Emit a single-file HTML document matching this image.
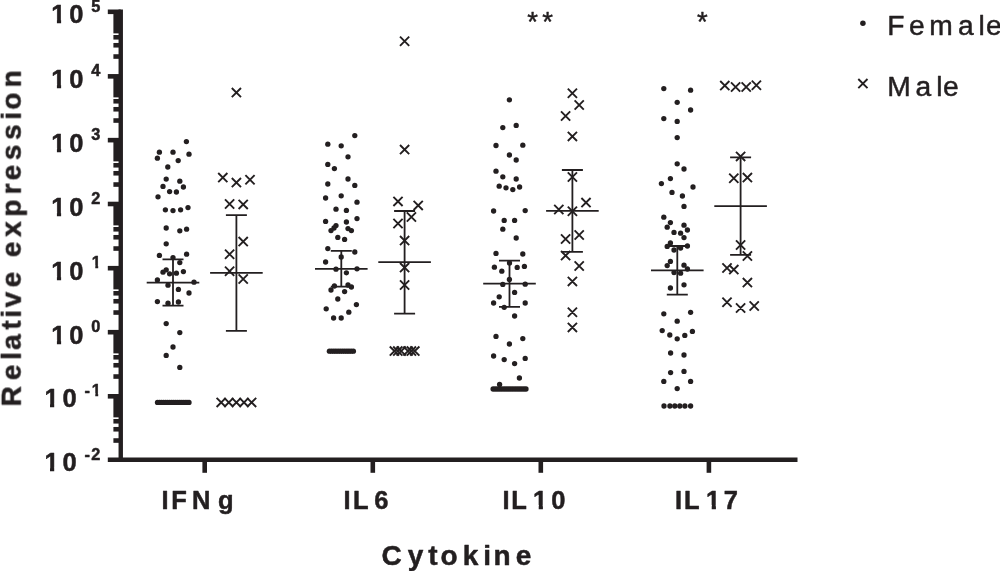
<!DOCTYPE html>
<html lang="en">
<head>
<meta charset="utf-8">
<title>Relative cytokine expression by sex</title>
<style>
html,body{margin:0;padding:0;background:#fff;}
body{width:1000px;height:571px;overflow:hidden;}
svg{display:block;}
</style>
</head>
<body>
<svg width="1000" height="571" viewBox="0 0 1000 571">

<rect width="1000" height="571" fill="#ffffff"/>
<g stroke="#231f20" stroke-width="4.4" fill="none" stroke-linecap="butt">
<line x1="120.75" y1="9.60" x2="120.75" y2="462.00"/>
<line x1="107.8" y1="459.80" x2="797.5" y2="459.80"/>
<line x1="107.8" y1="396.30" x2="120.75" y2="396.30" stroke-width="4.6"/>
<line x1="107.8" y1="332.20" x2="120.75" y2="332.20" stroke-width="4.6"/>
<line x1="107.8" y1="268.20" x2="120.75" y2="268.20" stroke-width="4.6"/>
<line x1="107.8" y1="204.00" x2="120.75" y2="204.00" stroke-width="4.6"/>
<line x1="107.8" y1="140.15" x2="120.75" y2="140.15" stroke-width="4.6"/>
<line x1="107.8" y1="76.35" x2="120.75" y2="76.35" stroke-width="4.6"/>
<line x1="107.8" y1="11.80" x2="120.75" y2="11.80" stroke-width="4.6"/>
</g>
<g stroke="#231f20" stroke-width="4.6" fill="none">
<line x1="113.4" y1="440.53" x2="120.75" y2="440.53"/>
<line x1="113.4" y1="429.26" x2="120.75" y2="429.26"/>
<line x1="113.4" y1="421.27" x2="120.75" y2="421.27"/>
<line x1="113.4" y1="376.53" x2="120.75" y2="376.53"/>
<line x1="113.4" y1="365.26" x2="120.75" y2="365.26"/>
<line x1="113.4" y1="357.27" x2="120.75" y2="357.27"/>
<line x1="113.4" y1="312.53" x2="120.75" y2="312.53"/>
<line x1="113.4" y1="301.26" x2="120.75" y2="301.26"/>
<line x1="113.4" y1="293.27" x2="120.75" y2="293.27"/>
<line x1="113.4" y1="248.53" x2="120.75" y2="248.53"/>
<line x1="113.4" y1="237.26" x2="120.75" y2="237.26"/>
<line x1="113.4" y1="229.27" x2="120.75" y2="229.27"/>
<line x1="113.4" y1="184.53" x2="120.75" y2="184.53"/>
<line x1="113.4" y1="173.26" x2="120.75" y2="173.26"/>
<line x1="113.4" y1="165.27" x2="120.75" y2="165.27"/>
<line x1="113.4" y1="120.53" x2="120.75" y2="120.53"/>
<line x1="113.4" y1="109.26" x2="120.75" y2="109.26"/>
<line x1="113.4" y1="101.27" x2="120.75" y2="101.27"/>
<line x1="113.4" y1="56.53" x2="120.75" y2="56.53"/>
<line x1="113.4" y1="45.26" x2="120.75" y2="45.26"/>
<line x1="113.4" y1="37.27" x2="120.75" y2="37.27"/>
</g>
<g fill="#231f20">
<rect x="113.4" y="395.80" width="7.35" height="21.57"/>
<rect x="113.4" y="331.80" width="7.35" height="21.57"/>
<rect x="113.4" y="267.80" width="7.35" height="21.57"/>
<rect x="113.4" y="203.80" width="7.35" height="21.57"/>
<rect x="113.4" y="139.80" width="7.35" height="21.57"/>
<rect x="113.4" y="75.80" width="7.35" height="21.57"/>
<rect x="113.4" y="11.80" width="7.35" height="21.57"/>
</g>
<g stroke="#231f20" stroke-width="4.6" fill="none">
<line x1="204.7" y1="459.80" x2="204.7" y2="472.8"/>
<line x1="372.8" y1="459.80" x2="372.8" y2="472.8"/>
<line x1="540.8" y1="459.80" x2="540.8" y2="472.8"/>
<line x1="708.9" y1="459.80" x2="708.9" y2="472.8"/>
</g>
<g fill="#231f20" font-family="'Liberation Sans', Arial, Helvetica, sans-serif" style="white-space:pre" opacity="0.999">
<text x="44.40 62.40" y="471.40" font-size="25.5" font-weight="bold" stroke="#231f20" stroke-width="0.5" stroke-linejoin="round" transform="matrix(1 0 0 1.02 0 -9.428)">10</text>
<text x="84.50 91.30" y="459.90" font-size="16.3" font-weight="bold" stroke="#231f20" stroke-width="0.5" stroke-linejoin="round" transform="matrix(1 0 0 1.05 0 -22.995)">-2</text>
<text x="44.40 62.40" y="407.40" font-size="25.5" font-weight="bold" stroke="#231f20" stroke-width="0.5" stroke-linejoin="round" transform="matrix(1 0 0 1.02 0 -8.148)">10</text>
<text x="84.50 91.80" y="395.90" font-size="16.3" font-weight="bold" stroke="#231f20" stroke-width="0.5" stroke-linejoin="round" transform="matrix(1 0 0 1.05 0 -19.795)">-1</text>
<text x="51.30 69.30" y="343.70" font-size="25.5" font-weight="bold" stroke="#231f20" stroke-width="0.5" stroke-linejoin="round" transform="matrix(1 0 0 1.02 0 -6.874)">10</text>
<text x="91.30" y="332.20" font-size="16.3" font-weight="bold" stroke="#231f20" stroke-width="0.5" stroke-linejoin="round" transform="matrix(1 0 0 1.05 0 -16.610)">0</text>
<text x="51.30 69.30" y="279.70" font-size="25.5" font-weight="bold" stroke="#231f20" stroke-width="0.5" stroke-linejoin="round" transform="matrix(1 0 0 1.02 0 -5.594)">10</text>
<text x="91.80" y="268.20" font-size="16.3" font-weight="bold" stroke="#231f20" stroke-width="0.5" stroke-linejoin="round" transform="matrix(1 0 0 1.05 0 -13.410)">1</text>
<text x="51.30 69.30" y="215.70" font-size="25.5" font-weight="bold" stroke="#231f20" stroke-width="0.5" stroke-linejoin="round" transform="matrix(1 0 0 1.02 0 -4.314)">10</text>
<text x="91.30" y="204.20" font-size="16.3" font-weight="bold" stroke="#231f20" stroke-width="0.5" stroke-linejoin="round" transform="matrix(1 0 0 1.05 0 -10.210)">2</text>
<text x="51.30 69.30" y="151.70" font-size="25.5" font-weight="bold" stroke="#231f20" stroke-width="0.5" stroke-linejoin="round" transform="matrix(1 0 0 1.02 0 -3.034)">10</text>
<text x="91.30" y="140.20" font-size="16.3" font-weight="bold" stroke="#231f20" stroke-width="0.5" stroke-linejoin="round" transform="matrix(1 0 0 1.05 0 -7.010)">3</text>
<text x="51.30 69.30" y="87.70" font-size="25.5" font-weight="bold" stroke="#231f20" stroke-width="0.5" stroke-linejoin="round" transform="matrix(1 0 0 1.02 0 -1.754)">10</text>
<text x="91.30" y="76.20" font-size="16.3" font-weight="bold" stroke="#231f20" stroke-width="0.5" stroke-linejoin="round" transform="matrix(1 0 0 1.05 0 -3.810)">4</text>
<text x="51.30 69.30" y="23.40" font-size="25.5" font-weight="bold" stroke="#231f20" stroke-width="0.5" stroke-linejoin="round" transform="matrix(1 0 0 1.02 0 -0.468)">10</text>
<text x="91.30" y="11.90" font-size="16.3" font-weight="bold" stroke="#231f20" stroke-width="0.5" stroke-linejoin="round" transform="matrix(1 0 0 1.05 0 -0.595)">5</text>
<text x="161.40 171.20 192.00 217.90" y="508.70" font-size="25.5" font-weight="bold" stroke="#231f20" stroke-width="0.5" stroke-linejoin="round" transform="matrix(1 0 0 1.02 0 -10.174)">IFNg</text>
<text x="343.40 353.10 374.30" y="508.70" font-size="25.5" font-weight="bold" stroke="#231f20" stroke-width="0.5" stroke-linejoin="round" transform="matrix(1 0 0 1.02 0 -10.174)">IL6</text>
<text x="502.40 511.20 533.10 551.20" y="508.70" font-size="25.5" font-weight="bold" stroke="#231f20" stroke-width="0.5" stroke-linejoin="round" transform="matrix(1 0 0 1.02 0 -10.174)">IL10</text>
<text x="674.90 684.10 706.10 723.80" y="508.70" font-size="25.5" font-weight="bold" stroke="#231f20" stroke-width="0.5" stroke-linejoin="round" transform="matrix(1 0 0 1.02 0 -10.174)">IL17</text>
<text x="381.40 407.87 428.25 440.46 462.85 483.23 493.41 515.80" y="564.80" font-size="28.0" font-weight="bold" stroke="#231f20" stroke-width="0.5" stroke-linejoin="round" transform="matrix(1 0 0 1.02 0 -11.296)">Cytokine</text>
<g transform="translate(20.3,406.4) rotate(-90)">
<text x="0.00 26.23 46.42 56.51 76.71 88.80 98.89 119.09 139.29 149.38 169.58 189.77 211.96 226.09 246.29 266.48 286.68 296.77 318.95" y="0.00" font-size="28.0" font-weight="bold" stroke="#231f20" stroke-width="0.5" stroke-linejoin="round" transform="matrix(1 0 0 1.02 0 -0.000)">Relative expression</text>
</g>
<text x="527.14 542.14" y="30.60" font-size="27.5" stroke="#231f20" stroke-width="0.45" stroke-linejoin="round">**</text>
<text x="697.04" y="30.60" font-size="27.5" stroke="#231f20" stroke-width="0.45" stroke-linejoin="round">*</text>
<text x="887.20 908.90 929.15 958.00 978.40 985.90" y="35.25" font-size="28.2" stroke="#231f20" stroke-width="0.5" stroke-linejoin="round">Female</text>
<text x="887.35 915.60 936.30 943.10" y="96.00" font-size="28.2" stroke="#231f20" stroke-width="0.5" stroke-linejoin="round">Male</text>
</g>
<g fill="#ffffff">
<rect x="44.51" y="467.65" width="5.50" height="5.95"/>
<rect x="54.21" y="467.65" width="5.15" height="5.95"/>
<rect x="44.51" y="403.65" width="5.50" height="5.95"/>
<rect x="54.21" y="403.65" width="5.15" height="5.95"/>
<rect x="91.33" y="393.05" width="3.93" height="5.05"/>
<rect x="98.20" y="393.05" width="3.71" height="5.05"/>
<rect x="51.41" y="339.95" width="5.50" height="5.95"/>
<rect x="61.11" y="339.95" width="5.15" height="5.95"/>
<rect x="51.41" y="275.95" width="5.50" height="5.95"/>
<rect x="61.11" y="275.95" width="5.15" height="5.95"/>
<rect x="91.33" y="265.35" width="3.93" height="5.05"/>
<rect x="98.20" y="265.35" width="3.71" height="5.05"/>
<rect x="51.41" y="211.95" width="5.50" height="5.95"/>
<rect x="61.11" y="211.95" width="5.15" height="5.95"/>
<rect x="51.41" y="147.95" width="5.50" height="5.95"/>
<rect x="61.11" y="147.95" width="5.15" height="5.95"/>
<rect x="51.41" y="83.95" width="5.50" height="5.95"/>
<rect x="61.11" y="83.95" width="5.15" height="5.95"/>
<rect x="51.41" y="19.65" width="5.50" height="5.95"/>
<rect x="61.11" y="19.65" width="5.15" height="5.95"/>
<rect x="533.21" y="504.95" width="5.50" height="5.95"/>
<rect x="542.91" y="504.95" width="5.15" height="5.95"/>
<rect x="706.21" y="504.95" width="5.50" height="5.95"/>
<rect x="715.91" y="504.95" width="5.15" height="5.95"/>
</g>
<path d="M173.00 259.30L173.00 305.60M162.50 259.30L183.50 259.30M162.50 305.60L183.50 305.60M146.70 282.60L199.30 282.60" stroke="#231f20" stroke-width="1.8" fill="none"/>
<path d="M236.40 215.20L236.40 330.80M225.90 215.20L246.90 215.20M225.90 330.80L246.90 330.80M210.10 272.80L262.70 272.80" stroke="#231f20" stroke-width="1.8" fill="none"/>
<path d="M341.30 250.80L341.30 286.60M330.80 250.80L351.80 250.80M330.80 286.60L351.80 286.60M315.00 268.80L367.60 268.80" stroke="#231f20" stroke-width="1.8" fill="none"/>
<path d="M404.60 211.00L404.60 313.60M394.10 211.00L415.10 211.00M394.10 313.60L415.10 313.60M378.30 262.20L430.90 262.20" stroke="#231f20" stroke-width="1.8" fill="none"/>
<path d="M509.50 260.60L509.50 306.80M499.00 260.60L520.00 260.60M499.00 306.80L520.00 306.80M483.20 283.60L535.80 283.60" stroke="#231f20" stroke-width="1.8" fill="none"/>
<path d="M572.40 170.00L572.40 251.80M561.90 170.00L582.90 170.00M561.90 251.80L582.90 251.80M546.10 210.80L598.70 210.80" stroke="#231f20" stroke-width="1.8" fill="none"/>
<path d="M677.30 246.00L677.30 294.60M666.80 246.00L687.80 246.00M666.80 294.60L687.80 294.60M651.00 270.40L703.60 270.40" stroke="#231f20" stroke-width="1.8" fill="none"/>
<path d="M740.60 157.40L740.60 254.80M730.10 157.40L751.10 157.40M730.10 254.80L751.10 254.80M714.30 206.20L766.90 206.20" stroke="#231f20" stroke-width="1.8" fill="none"/>
<g fill="#231f20">
<circle cx="186.4" cy="141.6" r="2.65"/>
<circle cx="159.4" cy="152.2" r="2.65"/>
<circle cx="173.0" cy="152.2" r="2.65"/>
<circle cx="189.0" cy="154.2" r="2.65"/>
<circle cx="157.4" cy="158.2" r="2.65"/>
<circle cx="178.2" cy="160.6" r="2.65"/>
<circle cx="167.8" cy="167.0" r="2.65"/>
<circle cx="166.2" cy="179.1" r="2.65"/>
<circle cx="179.8" cy="181.2" r="2.65"/>
<circle cx="163.0" cy="186.4" r="2.65"/>
<circle cx="183.4" cy="187.0" r="2.65"/>
<circle cx="169.6" cy="191.6" r="2.65"/>
<circle cx="176.4" cy="192.0" r="2.65"/>
<circle cx="158.0" cy="196.8" r="2.65"/>
<circle cx="188.0" cy="207.6" r="2.65"/>
<circle cx="165.4" cy="209.8" r="2.65"/>
<circle cx="173.0" cy="210.6" r="2.65"/>
<circle cx="180.6" cy="209.8" r="2.65"/>
<circle cx="166.2" cy="228.0" r="2.65"/>
<circle cx="179.8" cy="230.8" r="2.65"/>
<circle cx="186.6" cy="229.2" r="2.65"/>
<circle cx="166.2" cy="243.8" r="2.65"/>
<circle cx="159.4" cy="255.4" r="2.65"/>
<circle cx="186.6" cy="254.2" r="2.65"/>
<circle cx="173.0" cy="257.6" r="2.65"/>
<circle cx="179.8" cy="262.6" r="2.65"/>
<circle cx="166.2" cy="269.8" r="2.65"/>
<circle cx="163.0" cy="272.2" r="2.65"/>
<circle cx="169.6" cy="273.8" r="2.65"/>
<circle cx="176.4" cy="273.2" r="2.65"/>
<circle cx="183.4" cy="271.6" r="2.65"/>
<circle cx="157.4" cy="280.0" r="2.65"/>
<circle cx="194.0" cy="282.2" r="2.65"/>
<circle cx="168.0" cy="285.2" r="2.65"/>
<circle cx="178.4" cy="289.4" r="2.65"/>
<circle cx="189.0" cy="293.0" r="2.65"/>
<circle cx="157.4" cy="301.6" r="2.65"/>
<circle cx="168.0" cy="303.2" r="2.65"/>
<circle cx="178.4" cy="302.0" r="2.65"/>
<circle cx="166.2" cy="323.6" r="2.65"/>
<circle cx="179.8" cy="332.6" r="2.65"/>
<circle cx="173.0" cy="347.0" r="2.65"/>
<circle cx="166.2" cy="355.4" r="2.65"/>
<circle cx="179.8" cy="367.4" r="2.65"/>
<circle cx="157.5" cy="402.4" r="2.65"/>
<circle cx="159.5" cy="402.4" r="2.65"/>
<circle cx="161.4" cy="402.4" r="2.65"/>
<circle cx="163.4" cy="402.4" r="2.65"/>
<circle cx="165.4" cy="402.4" r="2.65"/>
<circle cx="167.3" cy="402.4" r="2.65"/>
<circle cx="169.3" cy="402.4" r="2.65"/>
<circle cx="171.3" cy="402.4" r="2.65"/>
<circle cx="173.2" cy="402.4" r="2.65"/>
<circle cx="175.2" cy="402.4" r="2.65"/>
<circle cx="177.2" cy="402.4" r="2.65"/>
<circle cx="179.2" cy="402.4" r="2.65"/>
<circle cx="181.1" cy="402.4" r="2.65"/>
<circle cx="183.1" cy="402.4" r="2.65"/>
<circle cx="185.1" cy="402.4" r="2.65"/>
<circle cx="187.0" cy="402.4" r="2.65"/>
<circle cx="189.0" cy="402.4" r="2.65"/>
</g>
<g fill="#231f20">
<circle cx="354.8" cy="135.6" r="2.65"/>
<circle cx="327.8" cy="144.2" r="2.65"/>
<circle cx="341.2" cy="145.8" r="2.65"/>
<circle cx="348.0" cy="156.8" r="2.65"/>
<circle cx="327.8" cy="164.4" r="2.65"/>
<circle cx="334.4" cy="168.6" r="2.65"/>
<circle cx="348.0" cy="179.0" r="2.65"/>
<circle cx="327.8" cy="184.0" r="2.65"/>
<circle cx="354.8" cy="185.4" r="2.65"/>
<circle cx="341.2" cy="195.8" r="2.65"/>
<circle cx="325.6" cy="198.0" r="2.65"/>
<circle cx="357.0" cy="202.2" r="2.65"/>
<circle cx="336.0" cy="209.2" r="2.65"/>
<circle cx="346.4" cy="210.4" r="2.65"/>
<circle cx="357.0" cy="218.6" r="2.65"/>
<circle cx="325.6" cy="221.4" r="2.65"/>
<circle cx="346.4" cy="222.0" r="2.65"/>
<circle cx="336.0" cy="225.6" r="2.65"/>
<circle cx="334.0" cy="228.0" r="2.65"/>
<circle cx="331.0" cy="230.6" r="2.65"/>
<circle cx="348.0" cy="228.6" r="2.65"/>
<circle cx="351.4" cy="230.6" r="2.65"/>
<circle cx="337.8" cy="237.4" r="2.65"/>
<circle cx="344.6" cy="239.4" r="2.65"/>
<circle cx="327.8" cy="248.6" r="2.65"/>
<circle cx="354.8" cy="252.0" r="2.65"/>
<circle cx="341.2" cy="257.0" r="2.65"/>
<circle cx="325.6" cy="262.0" r="2.65"/>
<circle cx="336.0" cy="269.2" r="2.65"/>
<circle cx="357.0" cy="268.8" r="2.65"/>
<circle cx="346.4" cy="272.8" r="2.65"/>
<circle cx="334.4" cy="286.0" r="2.65"/>
<circle cx="331.0" cy="290.0" r="2.65"/>
<circle cx="348.0" cy="285.0" r="2.65"/>
<circle cx="351.4" cy="287.0" r="2.65"/>
<circle cx="344.6" cy="291.6" r="2.65"/>
<circle cx="337.8" cy="299.0" r="2.65"/>
<circle cx="356.4" cy="304.6" r="2.65"/>
<circle cx="326.2" cy="308.8" r="2.65"/>
<circle cx="348.8" cy="312.2" r="2.65"/>
<circle cx="333.6" cy="318.0" r="2.65"/>
<circle cx="341.2" cy="318.0" r="2.65"/>
<circle cx="329.4" cy="351.2" r="2.65"/>
<circle cx="331.6" cy="351.2" r="2.65"/>
<circle cx="333.8" cy="351.2" r="2.65"/>
<circle cx="335.9" cy="351.2" r="2.65"/>
<circle cx="338.1" cy="351.2" r="2.65"/>
<circle cx="340.3" cy="351.2" r="2.65"/>
<circle cx="342.5" cy="351.2" r="2.65"/>
<circle cx="344.7" cy="351.2" r="2.65"/>
<circle cx="346.9" cy="351.2" r="2.65"/>
<circle cx="349.0" cy="351.2" r="2.65"/>
<circle cx="351.2" cy="351.2" r="2.65"/>
<circle cx="353.4" cy="351.2" r="2.65"/>
</g>
<g fill="#231f20">
<circle cx="509.4" cy="99.8" r="2.65"/>
<circle cx="516.2" cy="125.4" r="2.65"/>
<circle cx="502.8" cy="127.6" r="2.65"/>
<circle cx="496.0" cy="145.5" r="2.65"/>
<circle cx="522.8" cy="145.2" r="2.65"/>
<circle cx="509.4" cy="155.0" r="2.65"/>
<circle cx="516.2" cy="160.0" r="2.65"/>
<circle cx="496.0" cy="171.2" r="2.65"/>
<circle cx="502.8" cy="176.8" r="2.65"/>
<circle cx="516.2" cy="179.0" r="2.65"/>
<circle cx="499.2" cy="186.2" r="2.65"/>
<circle cx="506.0" cy="187.8" r="2.65"/>
<circle cx="512.8" cy="189.6" r="2.65"/>
<circle cx="519.6" cy="187.0" r="2.65"/>
<circle cx="493.6" cy="211.0" r="2.65"/>
<circle cx="525.2" cy="210.6" r="2.65"/>
<circle cx="504.2" cy="220.4" r="2.65"/>
<circle cx="514.6" cy="220.4" r="2.65"/>
<circle cx="502.8" cy="229.2" r="2.65"/>
<circle cx="516.2" cy="238.0" r="2.65"/>
<circle cx="496.0" cy="253.4" r="2.65"/>
<circle cx="522.8" cy="254.0" r="2.65"/>
<circle cx="509.5" cy="263.0" r="2.65"/>
<circle cx="494.4" cy="267.2" r="2.65"/>
<circle cx="517.2" cy="267.4" r="2.65"/>
<circle cx="524.4" cy="266.4" r="2.65"/>
<circle cx="501.8" cy="271.2" r="2.65"/>
<circle cx="509.4" cy="279.4" r="2.65"/>
<circle cx="502.8" cy="284.4" r="2.65"/>
<circle cx="525.2" cy="284.2" r="2.65"/>
<circle cx="514.6" cy="292.4" r="2.65"/>
<circle cx="499.2" cy="296.8" r="2.65"/>
<circle cx="493.6" cy="303.0" r="2.65"/>
<circle cx="525.2" cy="303.0" r="2.65"/>
<circle cx="504.2" cy="307.3" r="2.65"/>
<circle cx="514.6" cy="316.0" r="2.65"/>
<circle cx="496.0" cy="336.4" r="2.65"/>
<circle cx="522.8" cy="338.6" r="2.65"/>
<circle cx="509.4" cy="344.0" r="2.65"/>
<circle cx="493.6" cy="356.0" r="2.65"/>
<circle cx="525.2" cy="358.4" r="2.65"/>
<circle cx="504.2" cy="359.6" r="2.65"/>
<circle cx="514.6" cy="363.6" r="2.65"/>
<circle cx="519.4" cy="378.0" r="2.65"/>
<circle cx="499.6" cy="384.4" r="2.65"/>
<circle cx="493.1" cy="389.0" r="2.65"/>
<circle cx="495.3" cy="389.0" r="2.65"/>
<circle cx="497.5" cy="389.0" r="2.65"/>
<circle cx="499.7" cy="389.0" r="2.65"/>
<circle cx="501.9" cy="389.0" r="2.65"/>
<circle cx="504.1" cy="389.0" r="2.65"/>
<circle cx="506.3" cy="389.0" r="2.65"/>
<circle cx="508.5" cy="389.0" r="2.65"/>
<circle cx="510.7" cy="389.0" r="2.65"/>
<circle cx="512.9" cy="389.0" r="2.65"/>
<circle cx="515.1" cy="389.0" r="2.65"/>
<circle cx="517.3" cy="389.0" r="2.65"/>
<circle cx="519.5" cy="389.0" r="2.65"/>
<circle cx="521.7" cy="389.0" r="2.65"/>
<circle cx="523.9" cy="389.0" r="2.65"/>
<circle cx="526.0" cy="389.0" r="2.65"/>
</g>
<g fill="#231f20">
<circle cx="663.8" cy="88.6" r="2.65"/>
<circle cx="690.6" cy="90.2" r="2.65"/>
<circle cx="677.2" cy="102.3" r="2.65"/>
<circle cx="690.6" cy="110.0" r="2.65"/>
<circle cx="663.8" cy="118.6" r="2.65"/>
<circle cx="677.2" cy="121.4" r="2.65"/>
<circle cx="677.2" cy="137.6" r="2.65"/>
<circle cx="677.2" cy="163.8" r="2.65"/>
<circle cx="684.0" cy="169.0" r="2.65"/>
<circle cx="670.4" cy="178.6" r="2.65"/>
<circle cx="661.4" cy="183.6" r="2.65"/>
<circle cx="693.0" cy="187.0" r="2.65"/>
<circle cx="672.0" cy="192.4" r="2.65"/>
<circle cx="682.4" cy="196.0" r="2.65"/>
<circle cx="684.0" cy="206.4" r="2.65"/>
<circle cx="663.8" cy="217.2" r="2.65"/>
<circle cx="670.4" cy="222.6" r="2.65"/>
<circle cx="684.0" cy="225.2" r="2.65"/>
<circle cx="667.2" cy="227.2" r="2.65"/>
<circle cx="687.4" cy="230.0" r="2.65"/>
<circle cx="674.0" cy="232.4" r="2.65"/>
<circle cx="680.6" cy="233.2" r="2.65"/>
<circle cx="684.0" cy="237.6" r="2.65"/>
<circle cx="670.4" cy="243.0" r="2.65"/>
<circle cx="667.2" cy="246.4" r="2.65"/>
<circle cx="687.4" cy="246.0" r="2.65"/>
<circle cx="680.6" cy="248.0" r="2.65"/>
<circle cx="674.0" cy="250.0" r="2.65"/>
<circle cx="670.4" cy="261.4" r="2.65"/>
<circle cx="667.2" cy="265.6" r="2.65"/>
<circle cx="684.0" cy="265.2" r="2.65"/>
<circle cx="687.4" cy="269.0" r="2.65"/>
<circle cx="674.0" cy="272.6" r="2.65"/>
<circle cx="680.6" cy="273.2" r="2.65"/>
<circle cx="684.0" cy="284.8" r="2.65"/>
<circle cx="670.4" cy="288.0" r="2.65"/>
<circle cx="663.8" cy="313.8" r="2.65"/>
<circle cx="690.6" cy="312.3" r="2.65"/>
<circle cx="677.2" cy="321.2" r="2.65"/>
<circle cx="662.2" cy="330.6" r="2.65"/>
<circle cx="692.4" cy="331.4" r="2.65"/>
<circle cx="669.8" cy="335.0" r="2.65"/>
<circle cx="684.8" cy="335.4" r="2.65"/>
<circle cx="677.2" cy="338.8" r="2.65"/>
<circle cx="670.6" cy="353.0" r="2.65"/>
<circle cx="684.0" cy="355.0" r="2.65"/>
<circle cx="670.6" cy="372.6" r="2.65"/>
<circle cx="684.0" cy="371.4" r="2.65"/>
<circle cx="663.8" cy="381.4" r="2.65"/>
<circle cx="690.6" cy="381.4" r="2.65"/>
<circle cx="677.2" cy="388.6" r="2.65"/>
<circle cx="664.0" cy="406.0" r="2.65"/>
<circle cx="669.9" cy="406.0" r="2.65"/>
<circle cx="674.8" cy="406.0" r="2.65"/>
<circle cx="679.8" cy="406.0" r="2.65"/>
<circle cx="684.9" cy="406.0" r="2.65"/>
<circle cx="690.6" cy="406.0" r="2.65"/>
</g>
<path d="M231.80 88.00L241.00 97.20M231.80 97.20L241.00 88.00M218.20 173.00L227.40 182.20M218.20 182.20L227.40 173.00M231.80 178.00L241.00 187.20M231.80 187.20L241.00 178.00M245.40 175.20L254.60 184.40M245.40 184.40L254.60 175.20M225.00 199.40L234.20 208.60M225.00 208.60L234.20 199.40M238.60 199.80L247.80 209.00M238.60 209.00L247.80 199.80M238.60 237.00L247.80 246.20M238.60 246.20L247.80 237.00M225.00 249.60L234.20 258.80M225.00 258.80L234.20 249.60M225.00 266.60L234.20 275.80M225.00 275.80L234.20 266.60M238.60 274.40L247.80 283.60M238.60 283.60L247.80 274.40M216.60 397.80L225.80 407.00M216.60 407.00L225.80 397.80M224.20 397.80L233.40 407.00M224.20 407.00L233.40 397.80M231.80 397.80L241.00 407.00M231.80 407.00L241.00 397.80M239.40 397.80L248.60 407.00M239.40 407.00L248.60 397.80M247.00 397.80L256.20 407.00M247.00 407.00L256.20 397.80" stroke="#231f20" stroke-width="1.9" fill="none" stroke-linecap="butt"/>
<path d="M400.00 36.60L409.20 45.80M400.00 45.80L409.20 36.60M400.00 145.00L409.20 154.20M400.00 154.20L409.20 145.00M393.40 196.80L402.60 206.00M393.40 206.00L402.60 196.80M413.60 200.80L422.80 210.00M413.60 210.00L422.80 200.80M406.80 212.40L416.00 221.60M406.80 221.60L416.00 212.40M393.40 218.90L402.60 228.10M393.40 228.10L402.60 218.90M400.00 236.00L409.20 245.20M400.00 245.20L409.20 236.00M400.00 263.00L409.20 272.20M400.00 272.20L409.20 263.00M400.00 280.40L409.20 289.60M400.00 289.60L409.20 280.40M389.80 346.50L399.00 355.70M389.80 355.70L399.00 346.50M393.20 346.50L402.40 355.70M393.20 355.70L402.40 346.50M396.60 346.50L405.80 355.70M396.60 355.70L405.80 346.50M403.40 346.50L412.60 355.70M403.40 355.70L412.60 346.50M406.80 346.50L416.00 355.70M406.80 355.70L416.00 346.50M410.20 346.50L419.40 355.70M410.20 355.70L419.40 346.50" stroke="#231f20" stroke-width="1.9" fill="none" stroke-linecap="butt"/>
<path d="M567.80 88.60L577.00 97.80M567.80 97.80L577.00 88.60M574.60 100.40L583.80 109.60M574.60 109.60L583.80 100.40M561.00 111.40L570.20 120.60M561.00 120.60L570.20 111.40M567.80 131.80L577.00 141.00M567.80 141.00L577.00 131.80M567.80 172.40L577.00 181.60M567.80 181.60L577.00 172.40M581.40 198.00L590.60 207.20M581.40 207.20L590.60 198.00M554.20 204.90L563.40 214.10M554.20 214.10L563.40 204.90M567.80 206.70L577.00 215.90M567.80 215.90L577.00 206.70M574.60 230.40L583.80 239.60M574.60 239.60L583.80 230.40M561.00 234.40L570.20 243.60M561.00 243.60L570.20 234.40M561.00 251.00L570.20 260.20M561.00 260.20L570.20 251.00M574.60 261.40L583.80 270.60M574.60 270.60L583.80 261.40M567.80 276.80L577.00 286.00M567.80 286.00L577.00 276.80M567.80 307.70L577.00 316.90M567.80 316.90L577.00 307.70M567.80 322.80L577.00 332.00M567.80 332.00L577.00 322.80" stroke="#231f20" stroke-width="1.9" fill="none" stroke-linecap="butt"/>
<path d="M720.20 81.00L729.40 90.20M720.20 90.20L729.40 81.00M731.00 82.40L740.20 91.60M731.00 91.60L740.20 82.40M741.60 82.40L750.80 91.60M741.60 91.60L750.80 82.40M751.80 80.60L761.00 89.80M751.80 89.80L761.00 80.60M736.00 151.80L745.20 161.00M736.00 161.00L745.20 151.80M729.20 173.60L738.40 182.80M729.20 182.80L738.40 173.60M742.80 173.00L752.00 182.20M742.80 182.20L752.00 173.00M736.00 240.40L745.20 249.60M736.00 249.60L745.20 240.40M742.80 251.40L752.00 260.60M742.80 260.60L752.00 251.40M722.40 263.40L731.60 272.60M722.40 272.60L731.60 263.40M729.20 265.00L738.40 274.20M729.20 274.20L738.40 265.00M742.80 278.00L752.00 287.20M742.80 287.20L752.00 278.00M722.40 297.60L731.60 306.80M722.40 306.80L731.60 297.60M736.00 303.40L745.20 312.60M736.00 312.60L745.20 303.40M749.60 301.40L758.80 310.60M749.60 310.60L758.80 301.40" stroke="#231f20" stroke-width="1.9" fill="none" stroke-linecap="butt"/>
<circle cx="862.9" cy="23.3" r="2.75" fill="#231f20"/>
<path d="M858.30 79.00L867.50 88.20M858.30 88.20L867.50 79.00" stroke="#231f20" stroke-width="1.9" fill="none" stroke-linecap="butt"/>
</svg>
</body>
</html>
